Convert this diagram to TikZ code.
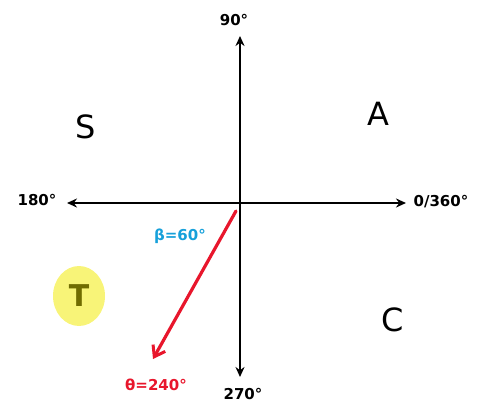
\documentclass[tikz,border=0pt]{standalone}
\usepackage{fontspec}
\setmainfont{DejaVu Sans}
\usetikzlibrary{arrows.meta}
\definecolor{penred}{RGB}{232,22,44}
\definecolor{penblue}{RGB}{22,160,218}
\definecolor{hiyellow}{RGB}{248,244,120}
\definecolor{olive2}{RGB}{112,108,0}
\tikzset{
  axis/.style={line width=2.4pt,{Stealth[length=10pt,width=9pt]}-{Stealth[length=10pt,width=9pt]}},
  lbl/.style={font=\bfseries\fontsize{15}{17}\selectfont,inner sep=1pt},
  quad/.style={font=\fontsize{32}{36}\selectfont,inner sep=1pt},
}
\begin{document}
\begin{tikzpicture}[x=1pt,y=-1pt]
\useasboundingbox (0,0) rectangle (479,404);
\coordinate (O) at (240,203);
\coordinate (top) at (240,36);
\coordinate (bot) at (240,377);
\coordinate (left) at (67,203);
\coordinate (right) at (406,203);
\draw[axis] (bot) -- (top);
\draw[axis] (left) -- (right);
\node[lbl] (n90) at (234,20) {90°};
\node[lbl] (n180) at (37,200) {180°};
\node[lbl] (n0) at (441,202) {0/360°};
\node[lbl] (n270) at (243,394) {270°};
\node[quad] (S) at (86,127) {S};
\node[quad] (A) at (378,114) {A};
\node[quad] (C) at (393,320) {C};
\fill[hiyellow] (79,296) ellipse (26 and 30);
\node[quad,text=olive2,font=\bfseries\fontsize{30}{34}\selectfont] (T) at (79,296) {T};
\coordinate (rs) at (236,211);
\coordinate (re) at (153,359);
\draw[penred,line width=3.2pt,line cap=round,-{Straight Barb[length=10pt,width=14pt,line width=3pt]}] (rs) -- (re);
\node[lbl,text=penblue] (beta) at (180,236) {β=60°};
\node[lbl,text=penred] (theta) at (156,385) {θ=240°};
\end{tikzpicture}
\end{document}
